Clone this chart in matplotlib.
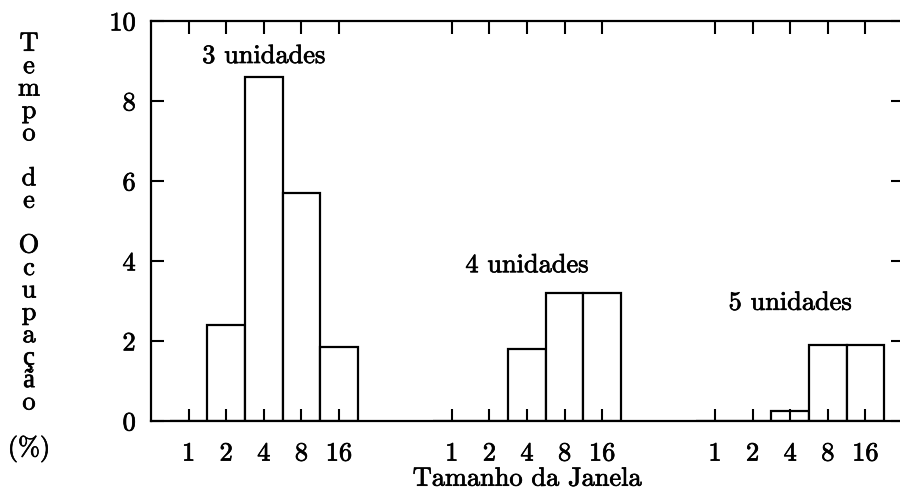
import numpy as np
import matplotlib.pyplot as plt
import matplotlib.patheffects as pe
from matplotlib.text import Text

# window sizes (tick labels) and the three unit groups
windows = ['1', '2', '4', '8', '16']
groups = ['3 unidades', '4 unidades', '5 unidades']

# occupation time (%) per window size, one list per group
occ3 = [0.0, 2.4, 8.6, 5.7, 1.85]
occ4 = [0.0, 0.0, 1.8, 3.2, 3.2]
occ5 = [0.0, 0.0, 0.26, 1.9, 1.9]

plt.rcParams['font.family'] = ['cmr10', 'Liberation Serif']
plt.rcParams['axes.unicode_minus'] = False
fs = 19

fig = plt.figure(figsize=(9, 4.9), dpi=100)
ax = fig.add_axes([151 / 900, 69 / 490, 752 / 900, 400 / 490])

gap = 7  # slots between groups
label_y = [8.95, 3.72, 2.78]  # where the group names sit
xticks = []
xlabels = []
for g, vals in enumerate([occ3, occ4, occ5]):
    pos = np.arange(len(windows)) + 1 + g * gap
    ax.bar(pos, vals, width=1.0, facecolor='white', edgecolor='black',
           linewidth=1.6)
    ax.text(pos[2], label_y[g], groups[g], ha='center', va='baseline',
            fontsize=fs)
    xticks += list(pos)
    xlabels += windows

ax.set_xlim(0, 20)
ax.set_ylim(0, 10)
ax.set_xticks(xticks)
ax.set_xticklabels(xlabels)
ax.set_yticks(np.arange(0, 11, 2))
ax.tick_params(direction='in', length=9, width=1.5, top=True, right=True,
               labelsize=fs)
ax.tick_params(axis='x', pad=15)
ax.tick_params(axis='y', pad=11)
for s in ax.spines.values():
    s.set_linewidth(1.6)
ax.set_xlabel('Tamanho da Janela', fontsize=fs, labelpad=1)

# stacked vertical y label
ylab = ['T', 'e', 'm', 'p', 'o', '', 'd', 'e', '', 'O', 'c', 'u', 'p', 'a',
        'ç', 'ã', 'o', '', '(%)']
fig.text(29 / 900, 1 - 32 / 490, '\n'.join(ylab), ha='center', va='top',
         fontsize=19, linespacing=0.93, multialignment='center')

# scanned print looks a bit heavier than plain cmr10
for t in fig.findobj(Text):
    t.set_path_effects([pe.withStroke(linewidth=0.5, foreground='black')])

fig.savefig('out.png', dpi=100)
